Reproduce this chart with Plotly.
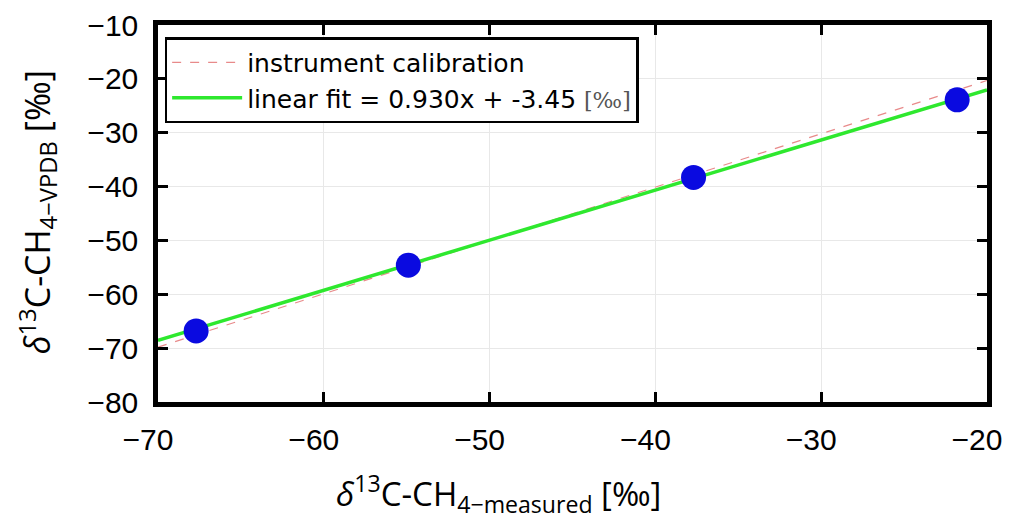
import plotly.graph_objects as go

# measured vs reference values of the standards
meas_x = [-67.7, -54.9, -37.7, -21.8]
vpdb_y = [-66.8, -54.6, -38.3, -23.9]

# dashed instrument calibration line
calib_x = [-70, -20]
calib_y = [-69.8, -20.3]

# linear fit line (0.930x - 3.45)
fit_x = [-70, -20]
fit_y = [-68.55, -22.05]

x_ticks = [-70, -60, -50, -40, -30, -20]
x_labels = ['−70', '−60', '−50', '−40', '−30', '−20']
y_ticks = [-80, -70, -60, -50, -40, -30, -20, -10]
y_labels = ['−80', '−70', '−60', '−50', '−40', '−30', '−20', '−10']

fig = go.Figure()
fig.add_trace(go.Scatter(x=calib_x, y=calib_y, mode='lines',
                         name='instrument calibration',
                         line=dict(color='#e88a8a', width=1.2, dash='dash')))
fig.add_trace(go.Scatter(x=fit_x, y=fit_y, mode='lines',
                         name='linear fit = 0.930x + -3.45 <span style="font-family:DejaVu Serif;font-size:22px;fill:#555">[‰]</span>',
                         line=dict(color='#2ee82e', width=3.5)))
fig.add_trace(go.Scatter(x=meas_x, y=vpdb_y, mode='markers', showlegend=False,
                         marker=dict(color='#0a0ae0', size=25)))

ax = dict(showline=True, linecolor='black', linewidth=4.5, mirror='allticks',
          ticks='inside', ticklen=10, tickwidth=3, tickcolor='black',
          showgrid=True, gridcolor='#e8e8e8', gridwidth=1, zeroline=False,
          automargin=False, ticklabeloverflow='allow',
          tickfont=dict(family='Liberation Sans', size=30, color='black'))

fig.update_xaxes(ax, range=[-70, -20], tickvals=x_ticks, ticktext=x_labels,
                 ticklabelstandoff=7, ticklabelshift=-10)
fig.update_yaxes(ax, range=[-80, -10], tickvals=y_ticks, ticktext=y_labels,
                 ticklabelstandoff=9)

fig.add_annotation(text='<i>δ</i><sup>13</sup>C-CH<sub>4−measured</sub> [‰]',
                   xref='paper', yref='paper', x=0.411, y=-0.243,
                   xanchor='center', yanchor='middle', showarrow=False,
                   font=dict(family='Open Sans', size=33, color='black'))
fig.add_annotation(text='<i>δ</i><sup>13</sup>C-CH<sub>4−VPDB</sub> [‰]',
                   xref='paper', yref='paper', x=-0.146, y=0.503, textangle=-90,
                   xanchor='center', yanchor='middle', showarrow=False,
                   font=dict(family='Open Sans', size=34, color='black'))

# page body adds an 8px offset, so the figure is sized to the visible area
fig.update_layout(width=1003, height=511, plot_bgcolor='white', paper_bgcolor='white',
                  margin=dict(l=150, r=24, t=17, b=117),
                  legend=dict(x=0.008, y=0.968, xanchor='left', yanchor='top',
                              itemwidth=70,
                              bgcolor='white', bordercolor='black', borderwidth=2.5,
                              font=dict(family='DejaVu Sans', size=25, color='black')))
fig.write_html("out.html")
